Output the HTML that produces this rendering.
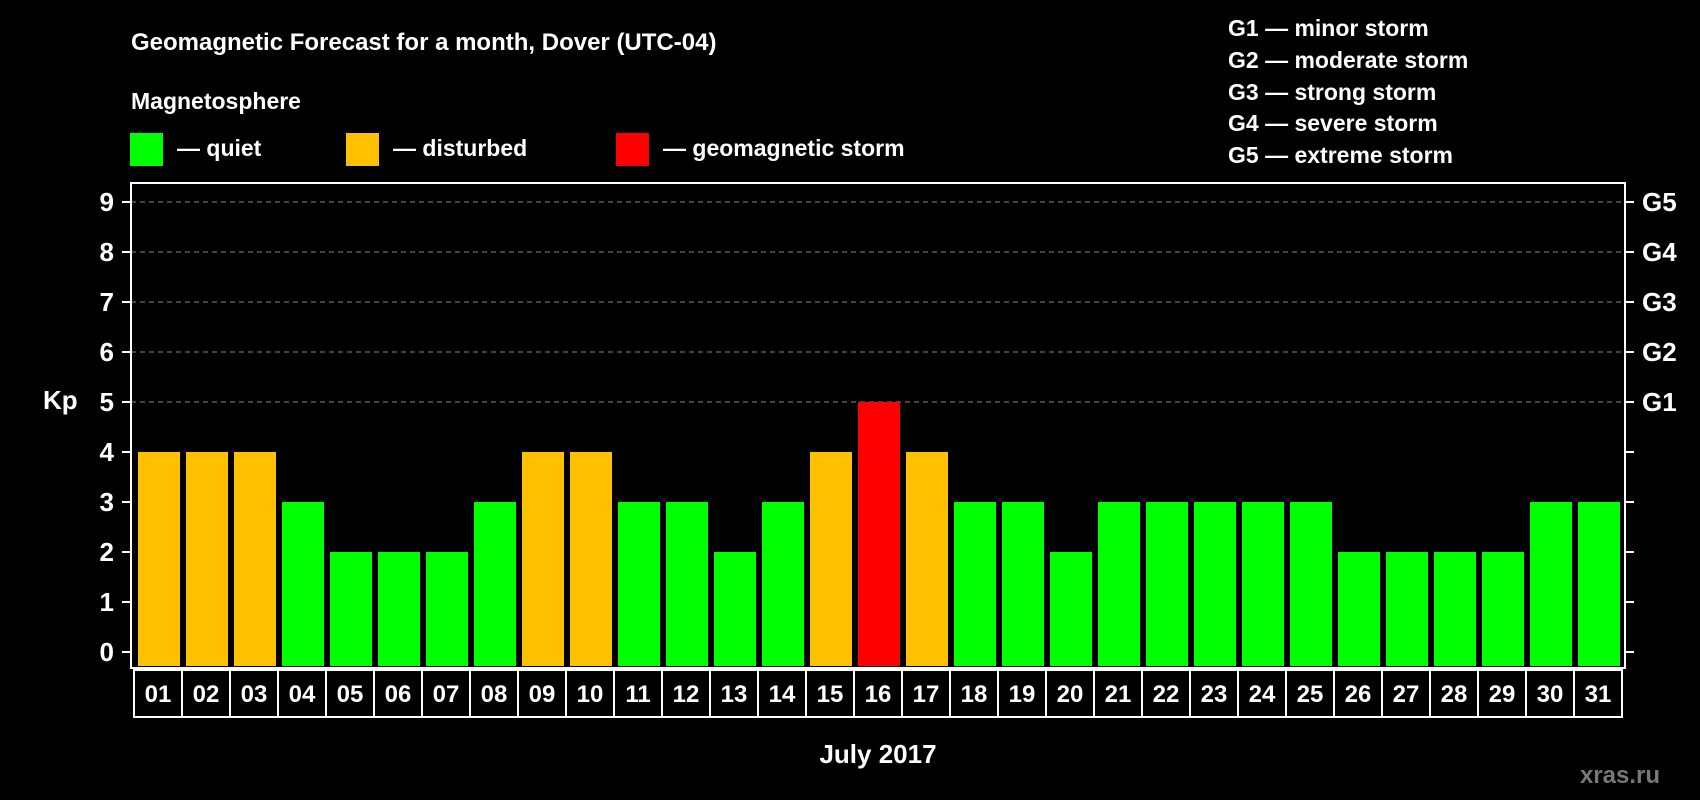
<!DOCTYPE html>
<html><head><meta charset="utf-8"><style>
html,body{margin:0;padding:0;background:#000;}
svg{display:block;font-family:"Liberation Sans",sans-serif;font-weight:bold;}
</style></head><body>
<svg id="c" width="1700" height="800" xmlns="http://www.w3.org/2000/svg">
<text x="131" y="50" fill="#fff" font-size="24">Geomagnetic Forecast for a month, Dover (UTC-04)</text>
<text x="131" y="109" fill="#fff" font-size="23">Magnetosphere</text>
<rect x="130" y="133" width="33" height="33" fill="#00ff00"/>
<text x="177" y="156" fill="#fff" font-size="23">— quiet</text>
<rect x="346" y="133" width="33" height="33" fill="#ffc000"/>
<text x="393" y="156" fill="#fff" font-size="23">— disturbed</text>
<rect x="616" y="133" width="33" height="33" fill="#ff0000"/>
<text x="663" y="156" fill="#fff" font-size="23">— geomagnetic storm</text>
<g fill="#fff" font-size="23">
<text x="1228" y="36">G1 — minor storm</text>
<text x="1228" y="68">G2 — moderate storm</text>
<text x="1228" y="100">G3 — strong storm</text>
<text x="1228" y="131">G4 — severe storm</text>
<text x="1228" y="163">G5 — extreme storm</text>
</g>
<g id="grid"></g><g id="bars"></g><g id="axes"></g>
<text x="43" y="409" fill="#fff" font-size="26">Kp</text>
<text x="878" y="763" fill="#fff" font-size="26" text-anchor="middle">July 2017</text>
<text x="1660" y="783" fill="#777" font-size="24" text-anchor="end">xras.ru</text>
</svg>
<script>
const days=["01","02","03","04","05","06","07","08","09","10","11","12","13","14","15","16","17","18","19","20","21","22","23","24","25","26","27","28","29","30","31"];
const kp=[4,4,4,3,2,2,2,3,4,4,3,3,2,3,4,5,4,3,3,2,3,3,3,3,3,2,2,2,2,3,3];
const yTicks=[0,1,2,3,4,5,6,7,8,9];
const gLabels=["G1","G2","G3","G4","G5"];
const NS="http://www.w3.org/2000/svg";
const L=131,R=1625,T=183,B=668,x0=135,slot=48;
const y=v=>652-v*50;
const x=i=>x0+i*slot;
function mk(tag,at,parent){const e=document.createElementNS(NS,tag);for(const k in at)e.setAttribute(k,at[k]);parent.appendChild(e);return e;}
const grid=document.getElementById('grid'),bars=document.getElementById('bars'),axes=document.getElementById('axes');
yTicks.forEach(v=>{
 if(v>=5){const g=mk('line',{x1:L,x2:R,y1:y(v),y2:y(v),stroke:'#888','stroke-dasharray':'5,4','stroke-width':1},grid);
 
 }
 const t=mk('line',{x1:L-9,x2:L,y1:y(v),y2:y(v),stroke:'#fff','stroke-width':2},axes);
 
 
 const t2=mk('line',{x1:R,x2:R+9,y1:y(v),y2:y(v),stroke:'#fff','stroke-width':2},axes);
 
 
 const lb=mk('text',{x:114,y:y(v)+9,fill:'#fff','font-size':26,'text-anchor':'end'},axes);lb.textContent=v;
 
 
});
gLabels.forEach((g,i)=>{
 const lb=mk('text',{x:1642,y:y(5+i)+9,fill:'#fff','font-size':26},axes);lb.textContent=g;
 
 
});
kp.forEach((v,i)=>{
 const c=v>=5?'#ff0000':(v>=4?'#ffc000':'#00ff00');
 const b=mk('rect',{x:x(i)+3,y:y(v),width:42,height:y(0)-y(v)+14,fill:c},bars);
 
 
 const bx=mk('rect',{x:x(i)-1,y:670,width:slot,height:47,fill:'#000',stroke:'#fff','stroke-width':2},axes);
 
 
 const lb=mk('text',{x:x(i)+slot/2-1,y:702,fill:'#fff','font-size':24,'text-anchor':'middle'},axes);lb.textContent=days[i];
 
 
});
const fr=mk('rect',{x:L,y:T,width:R-L,height:B-T,fill:'none',stroke:'#fff','stroke-width':2},axes);


</script>
</body></html>
